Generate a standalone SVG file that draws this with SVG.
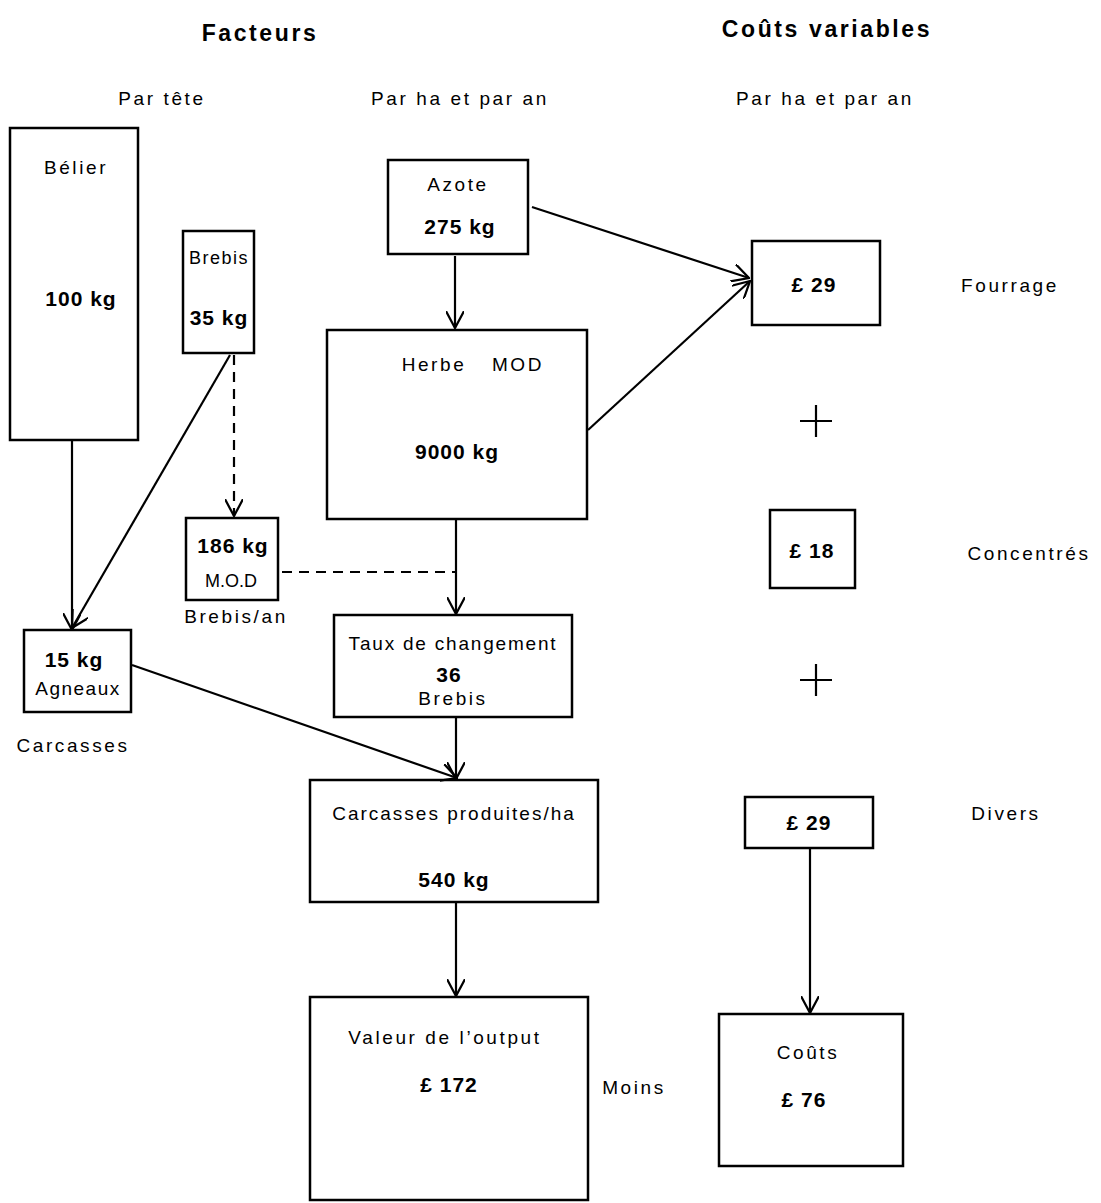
<svg xmlns="http://www.w3.org/2000/svg" width="1101" height="1203" viewBox="0 0 1101 1203">
<style>
.box{fill:none;stroke:#000;stroke-width:2.5}
.ln{fill:none;stroke:#000;stroke-width:2.2}
.dash{stroke-dasharray:10,7}
text{font-family:"Liberation Sans","DejaVu Sans",sans-serif;fill:#000;text-anchor:middle}
.t{font-size:19px;letter-spacing:2.6px}
.b{font-size:21px;font-weight:bold;letter-spacing:1px}
.h{font-size:23px;font-weight:bold;letter-spacing:2.6px}
.s{font-size:18px}
</style>
<defs>
<marker id="arb" viewBox="0 0 16 16" refX="15" refY="8" markerWidth="18" markerHeight="18" markerUnits="userSpaceOnUse" orient="auto">
<path d="M0,0 L15,8 L0,16" fill="none" stroke="#000" stroke-width="2"/>
</marker>
</defs>
<g id="headers">
<text class="h" x="260" y="41">Facteurs</text>
<text class="h" x="827" y="37">Coûts variables</text>
<text class="t" x="162" y="105">Par tête</text>
<text class="t" x="460" y="105">Par ha et par an</text>
<text class="t" x="825" y="105">Par ha et par an</text>
</g>
<g id="connectors">
<line class="ln" x1="72" y1="440" x2="72" y2="630" marker-end="url(#arb)"/>
<line class="ln" x1="230" y1="355" x2="72" y2="628" marker-end="url(#arb)"/>
<line class="ln dash" x1="234" y1="355" x2="234" y2="516" marker-end="url(#arb)"/>
<polyline class="ln dash" points="282,572 456,572"/>
<line class="ln" x1="455" y1="256" x2="455" y2="328" marker-end="url(#arb)"/>
<line class="ln" x1="456" y1="519" x2="456" y2="614" marker-end="url(#arb)"/>
<line class="ln" x1="532" y1="207" x2="749" y2="278" marker-end="url(#arb)"/>
<line class="ln" x1="588" y1="430" x2="750" y2="281" marker-end="url(#arb)"/>
<line class="ln" x1="132" y1="665" x2="457" y2="778" marker-end="url(#arb)"/>
<line class="ln" x1="456" y1="717" x2="456" y2="779" marker-end="url(#arb)"/>
<line class="ln" x1="456" y1="902" x2="456" y2="996" marker-end="url(#arb)"/>
<line class="ln" x1="810" y1="848" x2="810" y2="1013" marker-end="url(#arb)"/>
</g>
<g id="belier">
<rect class="box" x="10" y="128" width="128" height="312"/>
<text class="t" x="76" y="174">Bélier</text>
<text class="b" x="81" y="306">100 kg</text>
</g>
<g id="brebis">
<rect class="box" x="183" y="231" width="71" height="122"/>
<text class="t" x="219" y="264" style="font-size:18px;letter-spacing:1.5px">Brebis</text>
<text class="b" x="219" y="325">35 kg</text>
</g>
<g id="azote">
<rect class="box" x="388" y="160" width="140" height="94"/>
<text class="t" x="458" y="191">Azote</text>
<text class="b" x="460" y="234">275 kg</text>
</g>
<g id="herbe">
<rect class="box" x="327" y="330" width="260" height="189"/>
<text class="t" x="434" y="371">Herbe</text>
<text class="t" x="518" y="371">MOD</text>
<text class="b" x="457" y="459">9000 kg</text>
</g>
<g id="mod186">
<rect class="box" x="186" y="518" width="92" height="82"/>
<text class="b" x="233" y="553">186 kg</text>
<text class="s" x="231" y="587">M.O.D</text>
<text class="t" x="236" y="623">Brebis/an</text>
</g>
<g id="agneaux">
<rect class="box" x="24" y="630" width="107" height="82"/>
<text class="b" x="74" y="667">15 kg</text>
<text class="t" x="78" y="695" style="letter-spacing:1.5px">Agneaux</text>
<text class="t" x="73" y="752">Carcasses</text>
</g>
<g id="taux">
<rect class="box" x="334" y="615" width="238" height="102"/>
<text class="t" x="453" y="650" style="letter-spacing:1.8px">Taux de changement</text>
<text class="b" x="449" y="682">36</text>
<text class="t" x="453" y="705">Brebis</text>
</g>
<g id="carcasses">
<rect class="box" x="310" y="780" width="288" height="122"/>
<text class="t" x="454" y="820" style="letter-spacing:2px">Carcasses produites/ha</text>
<text class="b" x="454" y="887">540 kg</text>
</g>
<g id="valeur">
<rect class="box" x="310" y="997" width="278" height="203"/>
<text class="t" x="445" y="1044">Valeur de l’output</text>
<text class="b" x="449" y="1092">£ 172</text>
</g>
<g id="fourrage">
<rect class="box" x="752" y="241" width="128" height="84"/>
<text class="b" x="814" y="292">£ 29</text>
<text class="t" x="1010" y="292">Fourrage</text>
</g>
<g id="plus1"><path class="ln" d="M800,421 H832 M816,405 V437"/></g>
<g id="concentres">
<rect class="box" x="770" y="510" width="85" height="78"/>
<text class="b" x="812" y="558">£ 18</text>
<text class="t" x="1029" y="560">Concentrés</text>
</g>
<g id="plus2"><path class="ln" d="M800,680 H832 M816,664 V696"/></g>
<g id="divers">
<rect class="box" x="745" y="797" width="128" height="51"/>
<text class="b" x="809" y="830">£ 29</text>
<text class="t" x="1006" y="820">Divers</text>
</g>
<g id="couts">
<rect class="box" x="719" y="1014" width="184" height="152"/>
<text class="t" x="808" y="1059">Coûts</text>
<text class="b" x="804" y="1107">£ 76</text>
<text class="t" x="634" y="1094">Moins</text>
</g>
</svg>
